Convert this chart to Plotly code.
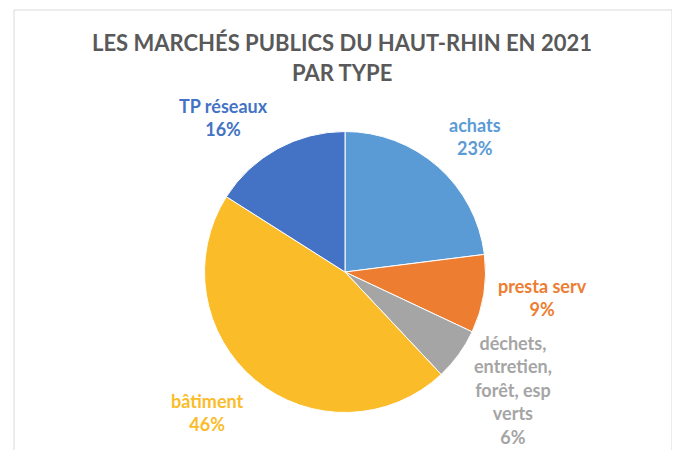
import numpy as np
import plotly.graph_objects as go

# data
labels = ["achats", "presta serv", "déchets, entretien, forêt, esp verts", "bâtiment", "TP réseaux"]
label_text = ["achats", "presta serv", "déchets,<br>entretien,<br>forêt, esp<br>verts", "bâtiment", "TP réseaux"]
shares = [23, 9, 6, 46, 16]
colors = ["#5B9BD5", "#ED7D31", "#A5A5A5", "#FBBC2A", "#4472C4"]

W, H = 680, 450
OFF = 8  # page body margin, pixels
cx, cy, r = 345, 272, 140.5  # pie centre / radius in pixels
# small hand nudges so labels sit where Excel's best-fit put them
label_nudge = [(0, 12), (3, -5), (9, 2), (-12, -11), (-27, 18)]


def px(x):
    return (x - OFF) / W


def py(y):
    return 1 - (y - OFF) / H


font = "Lato, Open Sans, sans-serif"

fig = go.Figure()
fig.add_trace(go.Pie(
    labels=labels,
    values=shares,
    sort=False,
    direction="clockwise",
    rotation=0,
    marker=dict(colors=colors, line=dict(color="white", width=1)),
    textinfo="none",
    hoverinfo="label+percent",
    showlegend=False,
    domain=dict(x=[px(cx - r), px(cx + r)], y=[py(cy + r), py(cy - r)]),
))

# outside data labels, placed from each slice's mid angle
total = sum(shares)
cum = np.cumsum([0] + shares)
for i, lab in enumerate(label_text):
    mid = (cum[i] + shares[i] / 2) / total * 2 * np.pi
    lx = cx + np.sin(mid) * r * 1.4 + label_nudge[i][0]
    ly = cy - np.cos(mid) * r * 1.4 + label_nudge[i][1]
    pct = round(shares[i] / total * 100)
    fig.add_annotation(
        x=px(lx), y=py(ly), xref="paper", yref="paper",
        text=f"<b>{lab}<br>{pct}%</b>", showarrow=False,
        xanchor="center", yanchor="middle", align="center",
        font=dict(family=font, size=18, color=colors[i]),
    )

# title, two lines
for txt, ty in [("LES MARCHÉS PUBLICS DU HAUT-RHIN EN 2021", 42), ("PAR TYPE", 72)]:
    fig.add_annotation(
        x=px(342), y=py(ty), xref="paper", yref="paper",
        text=f"<b>{txt}</b>", showarrow=False,
        xanchor="center", yanchor="middle",
        font=dict(family=font, size=22, color="#595959"),
    )

# chart area border
fig.add_shape(type="rect", xref="paper", yref="paper",
              x0=px(14), x1=px(672), y0=-0.2, y1=py(10),
              line=dict(color="#D9D9D9", width=1), fillcolor="rgba(0,0,0,0)")

fig.update_layout(
    width=W, height=H,
    margin=dict(l=0, r=0, t=0, b=0),
    paper_bgcolor="white",
)

fig.write_html("out.html")
